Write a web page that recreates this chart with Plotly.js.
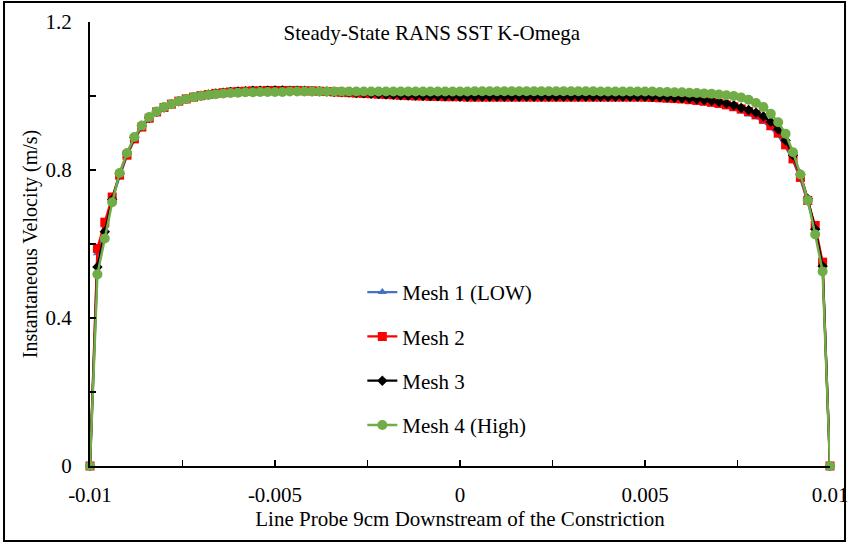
<!DOCTYPE html>
<html>
<head>
<meta charset="utf-8">
<script src="https://cdn.plot.ly/plotly-3.0.1.min.js"></script>
<style>html,body{margin:0;padding:0;background:#fff;}#chart{width:849px;height:546px;}</style>
</head>
<body>
<div id="chart"></div>
<script>
// Position along the line probe (m)
const xPos = [
-0.0100,-0.0098,-0.0096,-0.0094,-0.0092,-0.0090,-0.0088,-0.0086,-0.0084,-0.0082,
-0.0080,-0.0078,-0.0076,-0.0074,-0.0072,-0.0070,-0.0068,-0.0066,-0.0064,-0.0062,
-0.0060,-0.0058,-0.0056,-0.0054,-0.0052,-0.0050,-0.0048,-0.0046,-0.0044,-0.0042,
-0.0040,-0.0038,-0.0036,-0.0034,-0.0032,-0.0030,-0.0028,-0.0026,-0.0024,-0.0022,
-0.0020,-0.0018,-0.0016,-0.0014,-0.0012,-0.0010,-0.0008,-0.0006,-0.0004,-0.0002,
0.0000,0.0002,0.0004,0.0006,0.0008,0.0010,0.0012,0.0014,0.0016,0.0018,
0.0020,0.0022,0.0024,0.0026,0.0028,0.0030,0.0032,0.0034,0.0036,0.0038,
0.0040,0.0042,0.0044,0.0046,0.0048,0.0050,0.0052,0.0054,0.0056,0.0058,
0.0060,0.0062,0.0064,0.0066,0.0068,0.0070,0.0072,0.0074,0.0076,0.0078,
0.0080,0.0082,0.0084,0.0086,0.0088,0.0090,0.0092,0.0094,0.0096,0.0098,
0.0100];

const mesh1 = [
0,0.575,0.650,0.720,0.782,0.838,0.882,0.915,0.940,0.957,
0.969,0.978,0.986,0.992,0.997,1.001,1.004,1.007,1.009,1.011,
1.012,1.013,1.013,1.014,1.014,1.014,1.014,1.013,1.013,1.012,
1.011,1.010,1.009,1.008,1.006,1.004,1.002,1.001,1.000,0.999,
0.998,0.997,0.996,0.996,0.995,0.995,0.994,0.994,0.994,0.993,
0.993,0.993,0.993,0.993,0.993,0.993,0.993,0.993,0.993,0.993,
0.993,0.993,0.993,0.993,0.993,0.993,0.993,0.993,0.993,0.993,
0.993,0.993,0.992,0.992,0.992,0.991,0.991,0.990,0.989,0.988,
0.987,0.985,0.983,0.980,0.977,0.974,0.970,0.965,0.958,0.950,
0.942,0.930,0.913,0.893,0.862,0.825,0.775,0.712,0.645,0.545,
0];

const mesh2 = [
0,0.588,0.659,0.727,0.786,0.840,0.884,0.916,0.940,0.957,
0.969,0.978,0.986,0.992,0.997,1.001,1.004,1.007,1.009,1.011,
1.012,1.013,1.014,1.014,1.015,1.015,1.015,1.015,1.015,1.014,
1.014,1.013,1.012,1.011,1.010,1.009,1.008,1.007,1.006,1.005,
1.004,1.003,1.002,1.001,1.000,1.000,0.999,0.999,0.998,0.998,
0.998,0.997,0.997,0.997,0.997,0.997,0.997,0.997,0.997,0.997,
0.997,0.997,0.997,0.997,0.997,0.997,0.997,0.997,0.997,0.997,
0.997,0.997,0.997,0.997,0.997,0.997,0.996,0.995,0.994,0.993,
0.992,0.990,0.988,0.986,0.983,0.980,0.976,0.971,0.965,0.958,
0.950,0.938,0.920,0.900,0.868,0.830,0.780,0.718,0.650,0.551,
0];

const mesh3 = [
0,0.538,0.633,0.720,0.790,0.845,0.888,0.919,0.941,0.957,
0.969,0.978,0.986,0.992,0.997,1.001,1.004,1.007,1.009,1.011,
1.012,1.013,1.014,1.014,1.014,1.015,1.015,1.014,1.014,1.014,
1.013,1.013,1.012,1.011,1.010,1.009,1.008,1.007,1.006,1.005,
1.004,1.003,1.002,1.001,1.001,1.000,1.000,0.999,0.999,0.999,
0.998,0.998,0.998,0.998,0.998,0.998,0.998,0.998,0.998,0.998,
0.998,0.998,0.998,0.998,0.998,0.998,0.998,0.998,0.998,0.998,
0.998,0.998,0.998,0.998,0.998,0.998,0.997,0.997,0.996,0.995,
0.994,0.993,0.991,0.989,0.987,0.984,0.980,0.975,0.968,0.962,
0.955,0.945,0.930,0.910,0.880,0.840,0.788,0.722,0.640,0.540,
0];

const mesh4 = [
0,0.518,0.615,0.713,0.792,0.846,0.889,0.920,0.943,0.958,
0.970,0.978,0.986,0.992,0.997,1.000,1.003,1.005,1.007,1.008,
1.009,1.010,1.010,1.011,1.011,1.011,1.011,1.012,1.012,1.012,
1.012,1.012,1.012,1.012,1.012,1.012,1.012,1.012,1.012,1.012,
1.012,1.012,1.012,1.012,1.012,1.012,1.012,1.012,1.012,1.012,
1.012,1.012,1.013,1.013,1.013,1.013,1.013,1.013,1.013,1.013,
1.013,1.013,1.013,1.013,1.013,1.013,1.013,1.013,1.013,1.012,
1.012,1.012,1.012,1.012,1.012,1.012,1.012,1.011,1.011,1.010,
1.010,1.009,1.008,1.007,1.006,1.004,1.002,1.000,0.996,0.990,
0.981,0.970,0.952,0.929,0.898,0.848,0.788,0.718,0.626,0.526,
0];

const seriesNames = ["Mesh 1 (LOW)", "Mesh 2", "Mesh 3", "Mesh 4 (High)"];
const xTickVals = [-0.01,-0.0075,-0.005,-0.0025,0,0.0025,0.005,0.0075,0.01];
const xTickText = ["-0.01","","-0.005","","0","","0.005","","0.01"];
const yTickVals = [0,0.2,0.4,0.6,0.8,1.0,1.2];
const yTickText = ["0","","0.4","","0.8","","1.2"];

const FONT = "Liberation Serif";
const styles = [
  {color:"#4472C4", symbol:"triangle-up", size:8, width:2.25},
  {color:"#FF0000", symbol:"square", size:9, width:2.25},
  {color:"#000000", symbol:"diamond", size:8, width:2.25},
  {color:"#70AD47", symbol:"circle", size:10, width:2.5}
];
const ys = [mesh1, mesh2, mesh3, mesh4];
const traces = ys.map((y,i)=>({
  type:"scatter", mode:"lines+markers", x:xPos, y:y, name:seriesNames[i],
  legendgroup:"g"+i, cliponaxis:false,
  line:{color:styles[i].color, width:styles[i].width},
  marker:{color:styles[i].color, symbol:styles[i].symbol, size:styles[i].size}
}));

const layout = {
  width:849, height:546,
  margin:{l:90, r:19, t:22, b:80, pad:0},
  paper_bgcolor:"#fff", plot_bgcolor:"#fff",
  font:{family:FONT, size:21, color:"#000"},
  showlegend:true,
  title:{text:"Steady-State RANS SST K-Omega", font:{family:FONT, size:21, color:"#000"},
         xref:"paper", x:0.462, xanchor:"center", yref:"container", y:0.941, yanchor:"middle"},
  legend:{x:0.368, y:0.437, xanchor:"left", yanchor:"top", bgcolor:"rgba(0,0,0,0)",
          traceorder:"grouped", tracegroupgap:14, itemwidth:30,
          font:{family:FONT, size:21, color:"#000"}},
  xaxis:{range:[-0.01,0.01], tickmode:"array", tickvals:xTickVals, ticktext:xTickText,
         ticks:"inside", ticklen:6, tickwidth:1.5, tickcolor:"#000",
         showline:true, linecolor:"#000", linewidth:2, showgrid:false, zeroline:false,
         ticklabelstandoff:9, ticklabeloverflow:"allow",
         tickfont:{family:FONT, size:21, color:"#000"},
         title:{text:"Line Probe 9cm Downstream of the Constriction", font:{family:FONT, size:21, color:"#000"}, standoff:4}},
  yaxis:{range:[0,1.2], tickmode:"array", tickvals:yTickVals, ticktext:yTickText,
         ticks:"inside", ticklen:6, tickwidth:1.5, tickcolor:"#000",
         showline:true, linecolor:"#000", linewidth:2, showgrid:false, zeroline:false,
         ticklabelstandoff:12, ticklabeloverflow:"allow",
         tickfont:{family:FONT, size:21, color:"#000"},
         title:{text:"Instantaneous Velocity (m/s)", font:{family:FONT, size:20, color:"#000"}, standoff:3}},
  shapes:[{type:"rect", xref:"paper", yref:"paper", x0:-0.1162, x1:1.0203, y0:-0.1689, y1:1.045,
           line:{color:"#000", width:2}, fillcolor:"rgba(0,0,0,0)", layer:"below"}]
};

Plotly.newPlot("chart", traces, layout, {displayModeBar:false, staticPlot:true});
</script>
</body>
</html>
